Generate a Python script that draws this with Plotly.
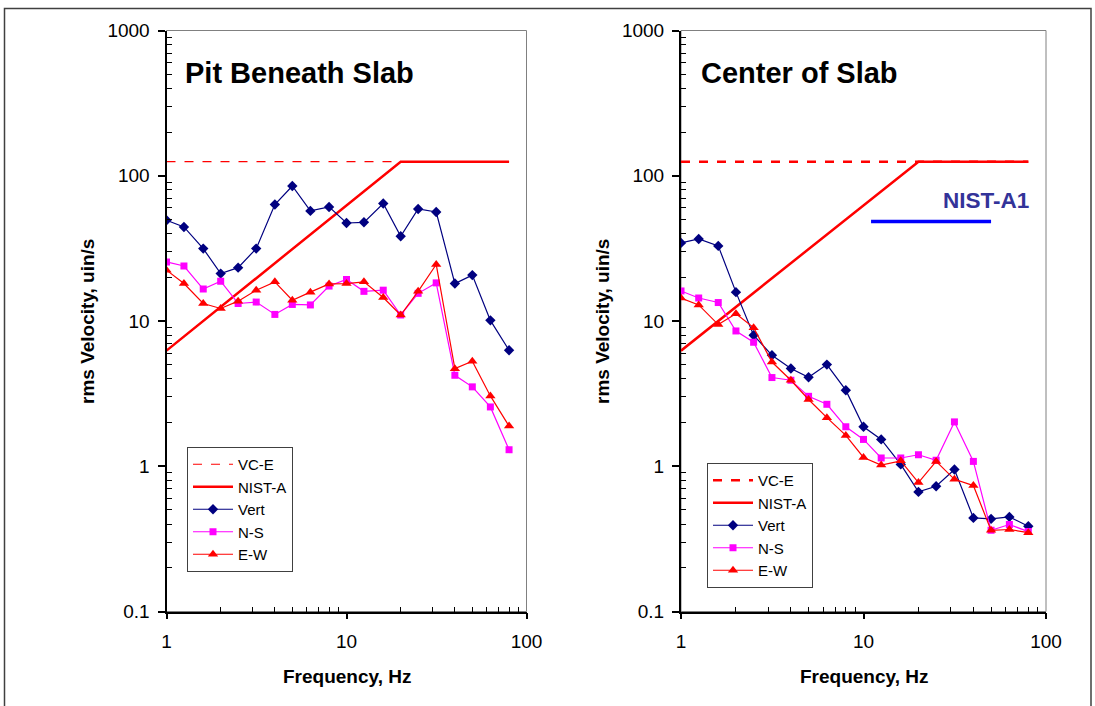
import plotly.graph_objects as go

# ---------------- data ----------------
freq = [1, 1.25, 1.6, 2, 2.5, 3.15, 4, 5, 6.3, 8, 10, 12.5, 16, 20, 25, 31.5, 40, 50, 63, 80]

pit_vert = [49.4, 44.4, 31.5, 21.2, 23.3, 31.5, 63.4, 85, 57.3, 61, 47.3, 47.8, 64.4, 38.3, 59.1, 56.3, 18.1, 20.7, 10.1, 6.29]
pit_ns = [25.5, 23.9, 16.6, 18.8, 13.2, 13.5, 11.1, 13.0, 12.9, 17.4, 19.3, 16.0, 16.3, 11.0, 15.5, 18.3, 4.23, 3.52, 2.56, 1.30]
pit_ew = [22.4, 18.1, 13.2, 12.2, 13.7, 16.3, 18.6, 13.9, 15.8, 18.0, 18.1, 18.6, 14.5, 11.0, 16.0, 24.5, 4.70, 5.28, 3.05, 1.89]

center_vert = [34.5, 36.7, 32.9, 15.8, 7.98, 5.81, 4.71, 4.10, 5.01, 3.34, 1.87, 1.53, 1.03, 0.666, 0.728, 0.949, 0.441, 0.434, 0.448, 0.386]
center_ns = [16.1, 14.4, 13.4, 8.54, 7.14, 4.08, 3.91, 3.03, 2.67, 1.87, 1.53, 1.14, 1.14, 1.20, 1.10, 2.02, 1.08, 0.362, 0.397, 0.355]
center_ew = [14.4, 12.9, 9.45, 11.2, 9.0, 5.22, 3.91, 2.88, 2.16, 1.63, 1.15, 1.02, 1.09, 0.772, 1.08, 0.813, 0.736, 0.362, 0.367, 0.349]

vce_x = [1, 80]
vce_y = [125, 125]
nista_x = [1, 20, 80]
nista_y = [6.25, 125, 125]
nista1_x = [11, 50]
nista1_y = [48.5, 48.5]

y_tickvals = [0.1, 1, 10, 100, 1000]
y_ticktext = ["0.1", "1", "10", "100", "1000"]
x_tickvals = [1, 10, 100]
x_ticktext = ["1", "10", "100"]

# ---------------- layout helpers ----------------
W, H = 1095, 706
FONT = "Liberation Sans, Arial, sans-serif"

def px_x(p):
    return p / W

def px_y(p):
    return 1 - p / H

y_minor = [m * 10 ** e for e in range(-1, 3) for m in range(2, 10)]
x_minor = [m * 10 ** e for e in range(0, 2) for m in range(2, 10)]

fig = go.Figure()

def add_panel(xa, ya, legend, vert, ns, ew, vce_width):
    fig.add_trace(go.Scatter(x=vce_x, y=vce_y, mode="lines", name="VC-E",
                             line=dict(color="#FF0000", width=vce_width, dash="dash"),
                             xaxis=xa, yaxis=ya, legend=legend, legendgroup=legend + "1"))
    fig.add_trace(go.Scatter(x=nista_x, y=nista_y, mode="lines", name="NIST-A",
                             line=dict(color="#FF0000", width=2.5),
                             xaxis=xa, yaxis=ya, legend=legend, legendgroup=legend + "2"))
    fig.add_trace(go.Scatter(x=freq, y=vert, mode="lines+markers", name="Vert",
                             line=dict(color="#000080", width=1.2),
                             marker=dict(symbol="diamond", size=8, color="#000080"),
                             xaxis=xa, yaxis=ya, legend=legend, legendgroup=legend + "3"))
    fig.add_trace(go.Scatter(x=freq, y=ns, mode="lines+markers", name="N-S",
                             line=dict(color="#FF00FF", width=1.2),
                             marker=dict(symbol="square", size=7, color="#FF00FF"),
                             xaxis=xa, yaxis=ya, legend=legend, legendgroup=legend + "4"))
    fig.add_trace(go.Scatter(x=freq, y=ew, mode="lines+markers", name="E-W",
                             line=dict(color="#FF0000", width=1.2),
                             marker=dict(symbol="triangle-up", size=9, color="#FF0000"),
                             xaxis=xa, yaxis=ya, legend=legend, legendgroup=legend + "5"))

add_panel("x", "y", "legend", pit_vert, pit_ns, pit_ew, 1.2)
add_panel("x2", "y2", "legend2", center_vert, center_ns, center_ew, 2.5)

fig.add_trace(go.Scatter(x=nista1_x, y=nista1_y, mode="lines", name="NIST-A1",
                         line=dict(color="#0000FF", width=3.5), showlegend=False,
                         xaxis="x2", yaxis="y2"))

def xaxis_cfg(d0, d1, anchor):
    return dict(type="log", domain=[d0, d1], anchor=anchor, range=[0, 2], automargin=False,
                tickvals=x_tickvals, ticktext=x_ticktext, ticks="outside", ticklen=6,
                tickwidth=1.5, tickcolor="black", showline=True, linecolor="black",
                linewidth=1.5, showgrid=False, zeroline=False, ticklabelstandoff=6,
                tickfont=dict(family=FONT, size=19, color="black"),
                minor=dict(tickvals=x_minor, ticks="inside", ticklen=5, tickcolor="black",
                           tickwidth=1, showgrid=False))

def yaxis_cfg(anchor):
    return dict(type="log", domain=[px_y(611.5), px_y(30.5)], anchor=anchor, range=[-1, 3],
                automargin=False,
                tickvals=y_tickvals, ticktext=y_ticktext, ticks="outside", ticklen=7,
                tickwidth=1.5, tickcolor="black", showline=True, linecolor="black",
                linewidth=2, showgrid=False, zeroline=False, ticklabelstandoff=4,
                tickfont=dict(family=FONT, size=19, color="black"),
                minor=dict(tickvals=y_minor, ticks="inside", ticklen=5, tickcolor="black",
                           tickwidth=1, showgrid=False))

legend_common = dict(xanchor="left", yanchor="top", bgcolor="white", bordercolor="#404040",
                     borderwidth=1, font=dict(family=FONT, size=15, color="black"),
                     itemwidth=40, tracegroupgap=8, traceorder="normal")

fig.update_layout(
    width=W, height=H,
    margin=dict(l=0, r=0, t=0, b=0, pad=0, autoexpand=False),
    paper_bgcolor="white", plot_bgcolor="white",
    font=dict(family=FONT, color="black"),
    xaxis=xaxis_cfg(px_x(166.5), px_x(526.5), "y"),
    yaxis=yaxis_cfg("x"),
    xaxis2=xaxis_cfg(px_x(681), px_x(1046), "y2"),
    yaxis2=yaxis_cfg("x2"),
    legend=dict(x=px_x(187), y=px_y(447), **legend_common),
    legend2=dict(x=px_x(707), y=px_y(463), **legend_common),
    showlegend=True,
)

shapes = []
for xr, yr in [("x domain", "y domain"), ("x2 domain", "y2 domain")]:
    shapes.append(dict(type="rect", xref=xr, yref=yr, x0=0, x1=1, y0=0, y1=1,
                       line=dict(color="#808080", width=1), layer="below"))
# outer frame
shapes.append(dict(type="rect", xref="paper", yref="paper", x0=px_x(4.5), x1=px_x(1091),
                   y0=-0.05, y1=px_y(8.5), line=dict(color="#404040", width=1.5), layer="below"))
fig.update_layout(shapes=shapes)

annotations = [
    dict(text="<b>Pit Beneath Slab</b>", x=px_x(183), y=px_y(73), xref="paper", yref="paper",
         xanchor="left", yanchor="middle", showarrow=False,
         font=dict(family=FONT, size=29, color="black")),
    dict(text="<b>Center of Slab</b>", x=px_x(699), y=px_y(73), xref="paper", yref="paper",
         xanchor="left", yanchor="middle", showarrow=False,
         font=dict(family=FONT, size=29, color="black")),
    dict(text="<b>NIST-A1</b>", x=px_x(986), y=px_y(201), xref="paper", yref="paper",
         xanchor="center", yanchor="middle", showarrow=False,
         font=dict(family=FONT, size=22.5, color="#333399")),
    dict(text="<b>Frequency, Hz</b>", x=px_x(347), y=px_y(676), xref="paper", yref="paper",
         xanchor="center", yanchor="middle", showarrow=False,
         font=dict(family=FONT, size=19, color="black")),
    dict(text="<b>Frequency, Hz</b>", x=px_x(864), y=px_y(676), xref="paper", yref="paper",
         xanchor="center", yanchor="middle", showarrow=False,
         font=dict(family=FONT, size=19, color="black")),
    dict(text="<b>rms Velocity, uin/s</b>", x=px_x(88), y=px_y(322), xref="paper", yref="paper",
         xanchor="center", yanchor="middle", showarrow=False, textangle=-90,
         font=dict(family=FONT, size=19, color="black")),
    dict(text="<b>rms Velocity, uin/s</b>", x=px_x(603), y=px_y(322), xref="paper", yref="paper",
         xanchor="center", yanchor="middle", showarrow=False, textangle=-90,
         font=dict(family=FONT, size=19, color="black")),
]
fig.update_layout(annotations=annotations)

fig.write_html("out.html")
